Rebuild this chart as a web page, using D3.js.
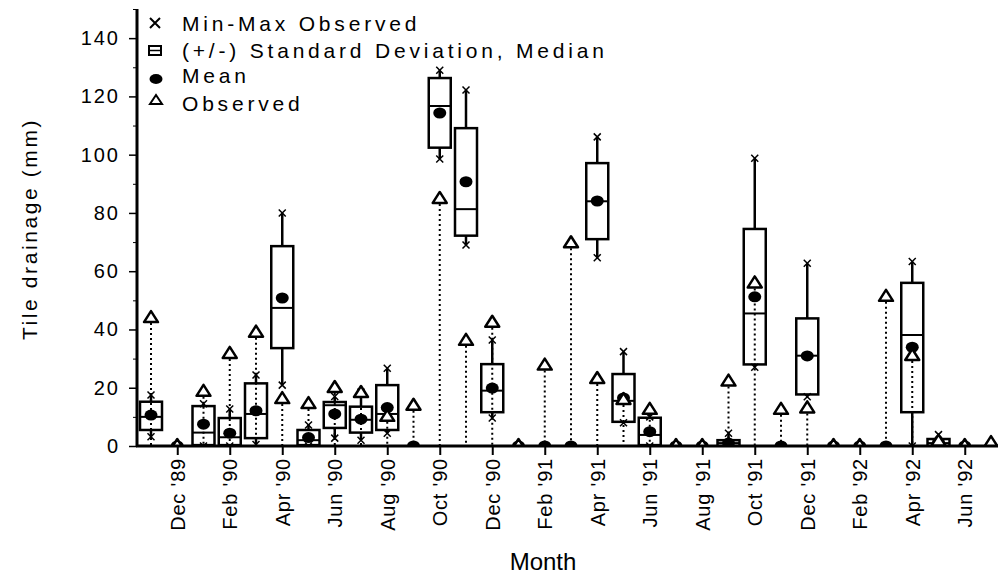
<!DOCTYPE html>
<html>
<head>
<meta charset="utf-8">
<script src="https://cdn.jsdelivr.net/npm/d3@7"></script>
<style>
  body { margin: 0; background: #fff; }
  svg { display: block; font-family: Arial, "Liberation Sans", sans-serif; }
</style>
</head>
<body>
<div id="chart"></div>
<script>
// months, Nov '89 .. Jul '92
var months = ["Nov '89", "Dec '89", "Jan '90", "Feb '90", "Mar '90", "Apr '90", "May '90", "Jun '90",
  "Jul '90", "Aug '90", "Sep '90", "Oct '90", "Nov '90", "Dec '90", "Jan '91", "Feb '91", "Mar '91",
  "Apr '91", "May '91", "Jun '91", "Jul '91", "Aug '91", "Sep '91", "Oct '91", "Nov '91", "Dec '91",
  "Jan '92", "Feb '92", "Mar '92", "Apr '92", "May '92", "Jun '92", "Jul '92"];

// simulated (box = mean +/- SD, median line, mean dot, min-max whiskers)
var sdLow  = [5.5, 0, 0.3, 0.3, 2.7, 33.6, 0.3, 6.2, 4.6, 5.5, 0, 102.4, 72.2, 11.6, 0, 0, 0,
  71, 8.3, 0.3, 0, 0, 0, 28, 0, 17.7, 0, 0, 0, 11.6, 0, 0, 0];
var sdHigh = [15.2, 0, 13.7, 9.6, 21.5, 68.6, 5.5, 15.1, 13.5, 20.9, 0, 126.3, 109.1, 28.1, 0, 0, 0,
  97.1, 24.7, 9.7, 0, 0, 2, 74.5, 0, 43.8, 0, 0, 0, 56, 2.4, 0, 0];
var median = [10, 0, 4.6, 3, 11, 47.4, 2, 14, 9, 11, 0, 116.7, 81.3, 19, 0, 0, 0,
  84, 15.5, 3.8, 0, 0, 1, 45.5, 0, 31, 0, 0, 0, 38.1, 1, 0, 0];
var mean   = [10.6, 0, 7.5, 4.4, 12.1, 50.8, 2.9, 11, 9.2, 13.2, 0, 114.3, 90.7, 19.9, 0, 0, 0,
  84.1, 16.5, 4.9, 0, 0, 1, 51.2, 0, 30.9, 0, 0, 0, 33.9, 1.2, 0, 0];
var minObs = [3.2, 0, 0, 0, 0.5, 20.9, 0, 2.7, 2, 4.4, 0, 98.5, 69, 9.6, 0, 0, 0,
  64.6, 8, 0, 0, 0, 0, 27, 0, 16.9, 0, 0, 0, 0, 0, 0, 0];
var maxObs = [17.5, 0, 14.5, 12.7, 24.4, 80, 7.2, 17, 18.5, 26.7, 0, 129, 122.2, 36.4, 0, 0, 0,
  106.1, 32.4, 10, 0, 0, 4.4, 98.8, 0, 62.7, 0, 0, 0, 63.3, 3.9, 0, 0];
// observed
var observed = [43.9, 0, 18.6, 31.6, 38.9, 16.1, 14.4, 19.9, 18.2, 10, 13.8, 84.8, 36.1, 42.3, 0, 27.6, 69.6,
  23, 15.8, 12.4, 0, 0, 22.1, 55.8, 12.4, 12.9, 0, 0, 51.2, 30.9, 1.5, 0, 1];

var yTicks = [0, 20, 40, 60, 80, 100, 120, 140];
var yMinorTicks = [10, 30, 50, 70, 90, 110, 130, 150];
var legendLabels = ["Min-Max Observed", "(+/-) Standard Deviation, Median", "Mean", "Observed"];

var width = 998, height = 576;
var svg = d3.select("#chart").append("svg")
    .attr("width", width)
    .attr("height", height);

var x = d3.scalePoint().domain(months).range([151, 991]);
var y = d3.scaleLinear().domain([0, 150]).range([446, 9]);

var data = months.map(function (m, i) {
  return {m: m, lo: sdLow[i], hi: sdHigh[i], med: median[i], mean: mean[i],
          min: minObs[i], max: maxObs[i], obs: observed[i]};
});

var boxW = 22;
var tri = "M-7,5L0,-6L7,5Z";
var cross = "M-3.5,-3.5L3.5,3.5M-3.5,3.5L3.5,-3.5";

// marks sitting at zero only show above the axis
svg.append("clipPath").attr("id", "plot")
  .append("rect").attr("x", 137).attr("y", 0).attr("width", width - 137).attr("height", y(0) + 1);

// y axis
var yAxis = svg.append("g")
    .attr("transform", "translate(137,0)")
    .call(d3.axisLeft(y).tickValues(yTicks).tickSize(8).tickPadding(9));
svg.append("g")
    .attr("transform", "translate(137,0)")
    .call(d3.axisLeft(y).tickValues(yMinorTicks).tickSize(4).tickFormat(""))
    .select(".domain").remove();
yAxis.select(".domain").attr("stroke-width", 3).attr("d", "M0," + y(0) + "V" + y(150));
yAxis.selectAll(".tick line").attr("stroke-width", 1.5);
yAxis.selectAll(".tick text")
    .style("font-size", "20px")
    .style("letter-spacing", "2px")
    .attr("fill", "#000");

// x axis
var xAxis = svg.append("g")
    .attr("transform", "translate(0,446)")
    .call(d3.axisBottom(x).tickValues(months.filter(function (m, i) { return i % 2 === 1; })).tickSize(9));
xAxis.select(".domain").remove();
xAxis.selectAll(".tick line").attr("stroke-width", 2);
xAxis.selectAll(".tick text")
    .attr("transform", "rotate(-90)")
    .attr("x", -12)
    .attr("y", 0)
    .attr("dy", "0.36em")
    .attr("text-anchor", "end")
    .style("font-size", "20px")
    .style("letter-spacing", "0.8px")
    .attr("fill", "#000");

var plot = svg.append("g").attr("clip-path", "url(#plot)");

// observed drop lines
plot.selectAll(".drop")
    .data(data.filter(function (d) { return d.obs > 0; }))
  .enter().append("line")
    .attr("class", "drop")
    .attr("x1", function (d) { return x(d.m); })
    .attr("x2", function (d) { return x(d.m); })
    .attr("y1", function (d) { return y(d.obs) + 5; })
    .attr("y2", y(0))
    .attr("stroke", "#000")
    .attr("stroke-width", 2)
    .attr("stroke-dasharray", "2,3");

// whiskers
plot.selectAll(".whisk-hi")
    .data(data)
  .enter().append("line")
    .attr("x1", function (d) { return x(d.m); })
    .attr("x2", function (d) { return x(d.m); })
    .attr("y1", function (d) { return y(d.hi); })
    .attr("y2", function (d) { return y(d.max); })
    .attr("stroke", "#000").attr("stroke-width", 2.5);
plot.selectAll(".whisk-lo")
    .data(data)
  .enter().append("line")
    .attr("x1", function (d) { return x(d.m); })
    .attr("x2", function (d) { return x(d.m); })
    .attr("y1", function (d) { return y(d.lo); })
    .attr("y2", function (d) { return y(d.min); })
    .attr("stroke", "#000").attr("stroke-width", 2.5);

// boxes
plot.selectAll(".box")
    .data(data)
  .enter().append("rect")
    .attr("x", function (d) { return x(d.m) - boxW / 2; })
    .attr("y", function (d) { return y(d.hi); })
    .attr("width", boxW)
    .attr("height", function (d) { return y(d.lo) - y(d.hi); })
    .attr("fill", "none")
    .attr("stroke", "#000")
    .attr("stroke-width", 2.5);

// medians
plot.selectAll(".med")
    .data(data)
  .enter().append("line")
    .attr("x1", function (d) { return x(d.m) - boxW / 2; })
    .attr("x2", function (d) { return x(d.m) + boxW / 2; })
    .attr("y1", function (d) { return y(d.med); })
    .attr("y2", function (d) { return y(d.med); })
    .attr("stroke", "#000").attr("stroke-width", 2);

// min-max crosses
var ends = [];
data.forEach(function (d) { ends.push({m: d.m, v: d.max}); ends.push({m: d.m, v: d.min}); });
plot.selectAll(".cross")
    .data(ends)
  .enter().append("path")
    .attr("transform", function (d) { return "translate(" + x(d.m) + "," + y(d.v) + ")"; })
    .attr("d", cross)
    .attr("stroke", "#000").attr("stroke-width", 1.5).attr("fill", "none");

// means
plot.selectAll(".mean")
    .data(data)
  .enter().append("ellipse")
    .attr("cx", function (d) { return x(d.m); })
    .attr("cy", function (d) { return y(d.mean); })
    .attr("rx", 6.5).attr("ry", 5.5)
    .attr("fill", "#000");

// observed triangles
plot.selectAll(".obs")
    .data(data)
  .enter().append("path")
    .attr("transform", function (d) { return "translate(" + x(d.m) + "," + (y(d.obs) - 1) + ")"; })
    .attr("d", tri)
    .attr("fill", "#fff")
    .attr("stroke", "#000")
    .attr("stroke-width", 2.5)
    .attr("stroke-linejoin", "round");

// x axis line on top of the zero marks
svg.append("line")
    .attr("x1", 136).attr("x2", 998)
    .attr("y1", y(0)).attr("y2", y(0))
    .attr("stroke", "#000").attr("stroke-width", 3);

// legend
var legendY = [31, 58, 83, 111];
var leg = svg.append("g");
leg.selectAll("text")
    .data(legendLabels)
  .enter().append("text")
    .attr("x", 182)
    .attr("y", function (d, i) { return legendY[i]; })
    .style("font-size", "21px")
    .style("letter-spacing", "3.8px")
    .text(function (d) { return d; });
leg.append("path").attr("transform", "translate(155,23)")
    .attr("d", "M-5,-5L5,5M-5,5L5,-5").attr("stroke", "#000").attr("stroke-width", 2);
leg.append("rect").attr("x", 149).attr("y", 46).attr("width", 12).attr("height", 9)
    .attr("fill", "none").attr("stroke", "#000").attr("stroke-width", 2);
leg.append("line").attr("x1", 149).attr("x2", 161).attr("y1", 50.5).attr("y2", 50.5)
    .attr("stroke", "#000").attr("stroke-width", 1.5);
leg.append("ellipse").attr("cx", 156).attr("cy", 79).attr("rx", 6.5).attr("ry", 5)
    .attr("fill", "#000");
leg.append("path").attr("transform", "translate(156,100)")
    .attr("d", "M-6,4L0,-5L6,4Z").attr("fill", "none").attr("stroke", "#000").attr("stroke-width", 2);

// axis titles
svg.append("text")
    .attr("transform", "translate(37,229) rotate(-90)")
    .attr("text-anchor", "middle")
    .style("font-size", "21px")
    .style("letter-spacing", "2.6px")
    .text("Tile drainage (mm)");
svg.append("text")
    .attr("x", 543)
    .attr("y", 570)
    .attr("text-anchor", "middle")
    .style("font-size", "24px")
    .text("Month");
</script>
</body>
</html>
